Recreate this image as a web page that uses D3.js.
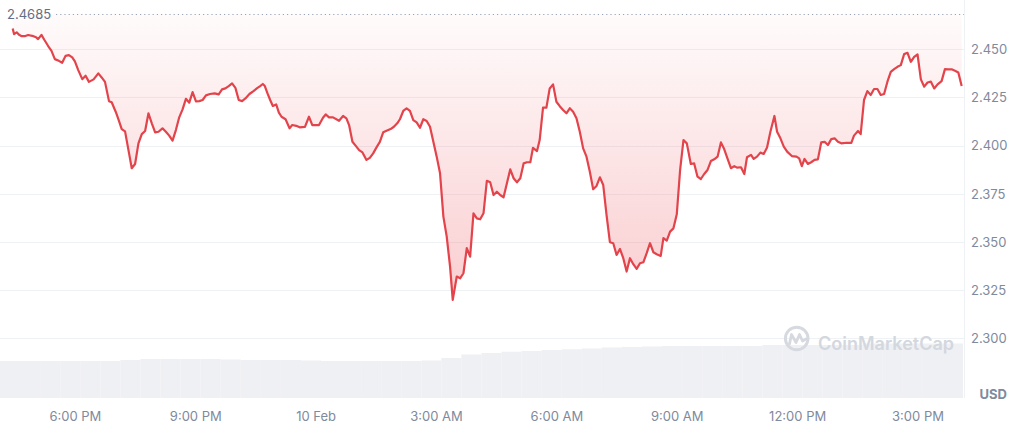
<!DOCTYPE html>
<html><head><meta charset="utf-8">
<script src="https://cdn.jsdelivr.net/npm/d3@7"></script>
<style>
body{margin:0;background:#fff;}
svg{display:block;font-family:Inter,"Noto Sans",sans-serif;}
</style>
</head><body>
<svg id="chart" width="1024" height="441"></svg>
<script>
// ---- data ----
const startTime = "2025-02-09T16:08";
const endTime = "2025-02-10T16:08";
const openPrice = 2.4685;
// minutes after startTime
const priceMinutes = [
19,21,25,28,32,37,42,50,54,57,62,66,72,77,82,88,93,98,103,108,112,117,123,128,133,140,147,152,157,163,167,173,177,182,187,193,197,202,207,212,217,222,227,232,237,243,248,253,258,263,268,273,278,283,288,293,298,303,308,314,321,327,332,337,342,347,352,357,362,367,373,379,384,389,
393,396,400,404,408,413,417,421,427,433,437,443,448,456,462,467,477,483,487,492,498,507,513,518,522,527,532,537,542,548,553,558,563,568,573,578,584,589,594,598,603,608,613,618,623,628,633,638,643,648,653,658,663,668,673,677,683,688,693,698,703,708,713,718,723,728,733,738,743,748,
753,758,763,768,773,778,783,788,793,797,803,807,812,817,822,827,832,837,842,847,852,857,862,867,872,877,882,887,892,897,902,907,912,917,922,927,932,937,942,947,952,957,962,967,972,977,982,988,992,997,1002,1007,1012,1017,1022,1027,
1033,1038,1043,1048,1053,1058,1063,1068,1073,1078,1083,1088,1093,1098,1102,1108,1113,1117,1123,1127,1132,1137,1142,1147,1152,1158,1162,1167,1172,1177,1184,1191,1195,1199,1203,1208,1213,1218,1223,1228,1233,1238,1243,1248,1253,1258,1266,1273,1277,1283,1287,1292,1297,1302,1307,1312,1317,1322,1327,1332,1337,1342,1347,1352,1357,1362,1367,1372,1377,1382,1387,1392,1397,1402,1408,1413,1418,1423,1428,1433,1438
];
const prices = [
2.4608,2.4579,2.4588,2.4577,2.4568,2.4568,2.4574,2.4568,2.4562,2.4553,2.4575,2.4551,2.4517,2.4492,2.4449,2.4440,2.4430,2.4466,2.4470,2.4458,2.4437,2.4392,2.4345,2.4363,2.4331,2.4344,2.4375,2.4354,2.4331,2.4231,2.4225,2.4176,2.4138,2.4086,2.4074,2.3960,2.3883,2.3905,2.4012,2.4060,2.4076,2.4168,2.4116,2.4069,2.4072,2.4090,2.4072,2.4052,2.4026,2.4081,2.4147,2.4188,2.4243,2.4223,2.4278,2.4230,2.4231,2.4237,2.4261,2.4268,2.4271,2.4266,2.4292,2.4297,2.4309,2.4323,2.4300,2.4237,2.4231,2.4245,2.4268,2.4283,2.4297,2.4309,
2.4320,2.4309,2.4271,2.4237,2.4206,2.4214,2.4171,2.4150,2.4137,2.4090,2.4107,2.4103,2.4095,2.4097,2.4150,2.4107,2.4107,2.4145,2.4162,2.4147,2.4147,2.4129,2.4154,2.4142,2.4107,2.4020,2.3999,2.3977,2.3965,2.3926,2.3937,2.3960,2.3991,2.4020,2.4069,2.4077,2.4086,2.4098,2.4116,2.4137,2.4180,2.4194,2.4181,2.4133,2.4121,2.4093,2.4137,2.4128,2.4098,2.4020,2.3943,2.3857,2.3632,2.3528,2.3372,2.3200,2.3321,2.3312,2.3338,2.3468,2.3424,2.3649,2.3623,2.3618,2.3649,2.3818,2.3810,2.3744,2.3761,2.3744,
2.3732,2.3805,2.3877,2.3831,2.3810,2.3831,2.3908,2.3914,2.3914,2.3989,2.3972,2.4029,2.4197,2.4197,2.4297,2.4318,2.4228,2.4205,2.4185,2.4168,2.4194,2.4176,2.4142,2.4072,2.3986,2.3943,2.3865,2.3774,2.3791,2.3836,2.3796,2.3640,2.3499,2.3494,2.3433,2.3464,2.3416,2.3347,2.3416,2.3385,2.3361,2.3390,2.3395,2.3442,2.3494,2.3447,2.3437,2.3428,2.3520,2.3507,2.3554,2.3571,2.3644,2.3874,2.4029,2.4012,
2.3905,2.3908,2.3839,2.3827,2.3853,2.3874,2.3920,2.3929,2.3943,2.4017,2.3981,2.3931,2.3883,2.3894,2.3886,2.3888,2.3853,2.3940,2.3952,2.3931,2.3943,2.3964,2.3957,2.3991,2.4072,2.4154,2.4072,2.4038,2.3995,2.3969,2.3946,2.3943,2.3934,2.3894,2.3931,2.3905,2.3914,2.3926,2.3929,2.4017,2.4020,2.4003,2.4034,2.4038,2.4020,2.4012,2.4015,2.4015,2.4052,2.4076,2.4060,2.4237,2.4283,2.4263,2.4294,2.4294,2.4263,2.4268,2.4332,2.4383,2.4397,2.4409,2.4418,2.4475,2.4482,2.4435,2.4461,2.4474,2.4344,2.4306,2.4328,2.4332,2.4297,2.4318,2.4335,2.4397,2.4396,2.4396,2.4389,2.4380,2.4309
];
const volumeStepMinutes = 30;
const volumes = [37,37,37,37,37,37,38,39,39,39,39,38.5,38,38,38,37.5,37,37,37,37,37,37.5,40,43.5,45,46.3,47,48,48.7,49.5,50.5,51,51.5,52,52,52,52,52,53,53,53,53,53,54.5,54.5,54.5,54.5,54.5];
const yTickValues = [2.300,2.325,2.350,2.375,2.400,2.425,2.450];
const xTickTimes = ["2025-02-09T18:00","2025-02-09T21:00","2025-02-10T00:00","2025-02-10T03:00","2025-02-10T06:00","2025-02-10T09:00","2025-02-10T12:00","2025-02-10T15:00"];
const xTickLabels = ["6:00 PM","9:00 PM","10 Feb","3:00 AM","6:00 AM","9:00 AM","12:00 PM","3:00 PM"];
const currencyLabel = "USD";
const watermarkText = "CoinMarketCap";

// ---- chart ----
const parse = d3.timeParse("%Y-%m-%dT%H:%M");
const t0 = parse(startTime), t1 = parse(endTime);
const addMin = (d, m) => new Date(d.getTime() + m * 60000);
const n = Math.min(priceMinutes.length, prices.length);
const series = d3.range(n).map(i => ({t: addMin(t0, priceMinutes[i]), v: prices[i]}));

const plotRight = 964, volBottom = 398;
const x = d3.scaleTime().domain([t0, t1]).range([0, 963]);
const y = d3.scaleLinear().domain([2.300, 2.450]).range([338.4, 49.3]);
const vy = d3.scaleLinear().domain([0, 60]).range([volBottom, 338]);

const svg = d3.select("#chart");
const defs = svg.append("defs");
const grad = defs.append("linearGradient").attr("id", "fillGrad")
  .attr("gradientUnits", "userSpaceOnUse")
  .attr("x1", 0).attr("x2", 0).attr("y1", y(openPrice)).attr("y2", y(d3.min(prices)));
grad.append("stop").attr("offset", 0).attr("stop-color", "#ea3943").attr("stop-opacity", 0.02);
grad.append("stop").attr("offset", 1).attr("stop-color", "#ea3943").attr("stop-opacity", 0.25);

// grid
svg.append("g").selectAll("line").data(yTickValues).join("line")
  .attr("x1", 0).attr("x2", plotRight)
  .attr("y1", d => Math.round(y(d)) + 0.5).attr("y2", d => Math.round(y(d)) + 0.5)
  .attr("stroke", "#eff2f5").attr("stroke-width", 1);
svg.append("line").attr("x1", plotRight + 0.5).attr("x2", plotRight + 0.5)
  .attr("y1", 0).attr("y2", volBottom).attr("stroke", "#eff2f5");

// volume bars
svg.append("g").selectAll("rect").data(volumes).join("rect")
  .attr("x", (d, i) => x(addMin(t0, i * volumeStepMinutes)))
  .attr("width", (d, i) => Math.min(x(addMin(t0, (i + 1) * volumeStepMinutes)), 963) - x(addMin(t0, i * volumeStepMinutes)))
  .attr("y", d => vy(d))
  .attr("height", d => volBottom - vy(d))
  .attr("fill", "#eff0f4");

// watermark
const wm = svg.append("g");
wm.append("circle").attr("cx", 796.7).attr("cy", 338.5).attr("r", 11.3)
  .attr("fill", "none").attr("stroke", "#d6dae0").attr("stroke-width", 3);
wm.append("path")
  .attr("d", "M789.5,344 L791.5,334.5 L796,342.5 L799.5,334.5 L802.5,341 L806,339")
  .attr("fill", "none").attr("stroke", "#d6dae0").attr("stroke-width", 2.8)
  .attr("stroke-linejoin", "round").attr("stroke-linecap", "round");
wm.append("text").attr("x", 818).attr("y", 350.3).text(watermarkText)
  .attr("font-size", 18).attr("font-weight", 600).attr("fill", "#d3d7de");

// area + line
const area = d3.area().x(d => x(d.t)).y0(y(openPrice)).y1(d => y(d.v));
svg.append("path").datum(series).attr("d", area).attr("fill", "url(#fillGrad)");
const line = d3.line().x(d => x(d.t)).y(d => y(d.v));
svg.append("path").datum(series).attr("d", line)
  .attr("fill", "none").attr("stroke", "#e3434a").attr("stroke-width", 2.2)
  .attr("stroke-linejoin", "round");

// open reference line + label
svg.append("line").attr("x1", 56).attr("x2", plotRight)
  .attr("y1", Math.round(y(openPrice)) + 0.5).attr("y2", Math.round(y(openPrice)) + 0.5)
  .attr("stroke", "#9aa4b5").attr("stroke-width", 1).attr("stroke-dasharray", "1.2,3");
svg.append("text").attr("x", 7).attr("y", y(openPrice) + 5.5)
  .text(d3.format(".4f")(openPrice))
  .attr("font-size", 13).attr("fill", "#616e85");

// y axis
const yAxis = svg.append("g").attr("transform", `translate(${plotRight},0)`)
  .call(d3.axisRight(y).tickValues(yTickValues).tickSize(0).tickPadding(7).tickFormat(d3.format(".3f")));
yAxis.select(".domain").remove();
yAxis.selectAll("text").attr("font-size", 13).attr("fill", "#808a9d").attr("font-family", "Inter");

// x axis
const xAxis = svg.append("g").attr("transform", "translate(0,412)")
  .call(d3.axisBottom(x).tickValues(xTickTimes.map(parse)).tickSize(0).tickPadding(0)
    .tickFormat((d, i) => xTickLabels[i]));
xAxis.select(".domain").remove();
xAxis.selectAll("text").attr("font-size", 13).attr("fill", "#808a9d").attr("font-family", "Inter");

// currency label
svg.append("text").attr("x", 1007).attr("y", 399).attr("text-anchor", "end")
  .text(currencyLabel).attr("font-size", 13).attr("font-weight", 700).attr("fill", "#808a9d");
</script>
</body></html>
